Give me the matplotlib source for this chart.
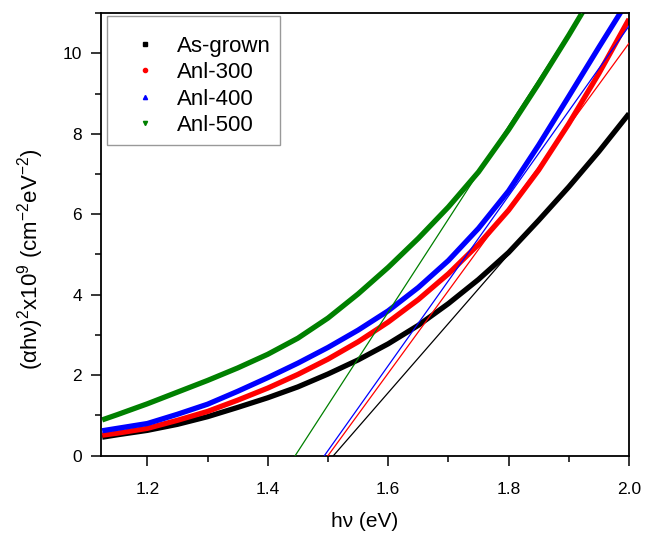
# Tauc plot: (alpha*h*nu)^2 vs photon energy, with linear fits to the band edge
import numpy
import matplotlib
matplotlib.use('Agg')
import matplotlib.pyplot as plt
from matplotlib.lines import Line2D
from matplotlib.ticker import MultipleLocator

plt.rcParams['font.family'] = ['Liberation Sans', 'DejaVu Sans']
plt.rcParams['mathtext.fontset'] = 'custom'
plt.rcParams['mathtext.rm'] = 'Liberation Sans'
plt.rcParams['mathtext.default'] = 'regular'

# photon energy (eV) at which the curves were read
energy = [1.125, 1.15, 1.20, 1.25, 1.30, 1.35, 1.40, 1.45, 1.50, 1.55,
          1.60, 1.65, 1.70, 1.75, 1.80, 1.85, 1.90, 1.95, 2.00]

as_grown = [0.46, 0.52, 0.63, 0.78, 0.97, 1.20, 1.44, 1.71, 2.03, 2.38,
            2.78, 3.24, 3.78, 4.38, 5.05, 5.85, 6.68, 7.56, 8.50]
anl_300 = [0.51, 0.56, 0.68, 0.88, 1.10, 1.38, 1.68, 2.02, 2.40, 2.83,
           3.32, 3.88, 4.52, 5.25, 6.10, 7.10, 8.25, 9.50, 10.85]
anl_400 = [0.62, 0.68, 0.80, 1.03, 1.28, 1.60, 1.94, 2.30, 2.69, 3.12,
           3.60, 4.18, 4.85, 5.65, 6.58, 7.72, 8.93, 10.15, 11.35]
anl_500 = [0.89, 1.02, 1.29, 1.58, 1.87, 2.18, 2.52, 2.92, 3.42, 4.02,
           4.68, 5.40, 6.18, 7.05, 8.10, 9.25, 10.45, 11.70, 12.95]

labels = ['As-grown', 'Anl-300', 'Anl-400', 'Anl-500']
colors = ['black', 'red', 'blue', 'green']
markers = ['s', 'o', '^', 'v']

# linear fit: band gap (x intercept, eV) and slope
band_gap = [1.509, 1.500, 1.494, 1.4455]
fit_slope = [17.2, 20.5, 21.1, 23.1]

series = [as_grown, anl_300, anl_400, anl_500]

fig = plt.figure(figsize=(6.54, 5.34), dpi=100)
ax = fig.add_axes([0.1544, 0.1466, 0.8074, 0.8290])

for y, c in zip(series, colors):
    ax.plot(energy, y, '-', color=c, lw=3.8, solid_capstyle='butt', zorder=2)

for eg, k, c in zip(band_gap, fit_slope, colors):
    xs = numpy.array([eg, 2.0])
    ax.plot(xs, k * (xs - eg), '-', color=c, lw=0.9, zorder=3)

ax.set_xlim(1.123, 2.0)
ax.set_ylim(0, 11)
ax.xaxis.set_major_locator(MultipleLocator(0.2))
ax.xaxis.set_minor_locator(MultipleLocator(0.1))
ax.yaxis.set_major_locator(MultipleLocator(2))
ax.yaxis.set_minor_locator(MultipleLocator(1))
ax.tick_params(which='major', direction='out', length=7, width=1.1, labelsize=12.5)
ax.tick_params(which='minor', direction='out', length=4, width=1.1)
ax.tick_params(axis='x', pad=12)
ax.tick_params(axis='y', pad=6.5)
for s in ax.spines.values():
    s.set_linewidth(1.3)

ax.set_xlabel('h\u03bd (eV)', fontsize=15, labelpad=11)
ax.set_ylabel('(\u03b1h\u03bd)$^2$x10$^9$ (cm$^{-2}$eV$^{-2}$)', fontsize=16)
ax.yaxis.set_label_coords(-0.105, 0.445)

handles = [Line2D([], [], ls='none', marker=m, color=c, markersize=3)
           for m, c in zip(markers, colors)]
leg = ax.legend(handles, labels, loc='upper left', bbox_to_anchor=(0.011, 0.993),
                borderaxespad=0, fontsize=16, frameon=True, fancybox=False,
                edgecolor='#808080', handlelength=2.6, handletextpad=0.15,
                labelspacing=0.25, borderpad=0.4, title=' ', title_fontsize=4)
leg.get_frame().set_linewidth(1.0)

fig.savefig('out.png', dpi=100)
